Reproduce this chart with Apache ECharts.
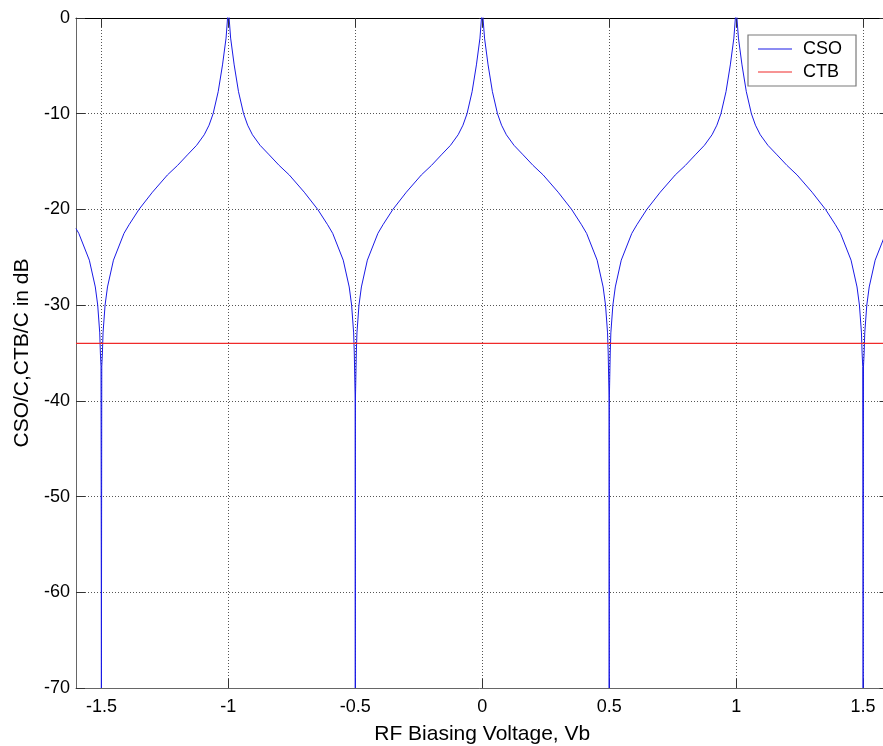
<!DOCTYPE html>
<html>
<head>
<meta charset="utf-8">
<script src="https://cdn.jsdelivr.net/npm/echarts@6/dist/echarts.min.js"></script>
<style>
  html, body { margin: 0; padding: 0; background: #fff; }
  #chart { width: 883px; height: 746px; }
</style>
</head>
<body>
<div id="chart"></div>
<script>
// Axis tick positions and labels
const xTickValues = [-1.5, -1, -0.5, 0, 0.5, 1, 1.5];
const xTickLabels = ['-1.5', '-1', '-0.5', '0', '0.5', '1', '1.5'];
const yTickValues = [0, -10, -20, -30, -40, -50, -60, -70];

// CSO vs. RF biasing voltage: [Vb, dB]
const csoPoints = [
  [-1.6, -22.0], [-1.589, -22.5], [-1.5475, -25.3], [-1.524, -28.1], [-1.5145, -30.0],
  [-1.5065, -32.9], [-1.504, -35.0], [-1.5015, -36.4], [-1.5, -70],
  [-1.4985, -36.4], [-1.496, -35.0], [-1.4935, -32.9], [-1.4855, -30.0], [-1.476, -28.1],
  [-1.4525, -25.3], [-1.411, -22.5], [-1.391, -21.6], [-1.352, -20.0], [-1.299, -18.2],
  [-1.24, -16.4], [-1.2, -15.4], [-1.161, -14.3], [-1.125, -13.3], [-1.095, -12.2],
  [-1.076, -11.2], [-1.06, -10.0], [-1.04, -7.7], [-1.023, -4.9], [-1.009, -2.1],
  [-1.003, 0], [-1.0, 2],
  [-0.997, 0], [-0.991, -2.1], [-0.977, -4.9], [-0.96, -7.7], [-0.94, -10.0],
  [-0.924, -11.2], [-0.905, -12.2], [-0.875, -13.3], [-0.839, -14.3], [-0.8, -15.4],
  [-0.76, -16.4], [-0.701, -18.2], [-0.648, -20.0], [-0.609, -21.6], [-0.589, -22.5],
  [-0.5475, -25.3], [-0.524, -28.1], [-0.5145, -30.0], [-0.5065, -32.9], [-0.504, -35.0],
  [-0.5002, -40.2], [-0.5, -70],
  [-0.4998, -40.2], [-0.496, -35.0], [-0.4935, -32.9], [-0.4855, -30.0], [-0.476, -28.1],
  [-0.4525, -25.3], [-0.411, -22.5], [-0.391, -21.6], [-0.352, -20.0], [-0.299, -18.2],
  [-0.24, -16.4], [-0.2, -15.4], [-0.161, -14.3], [-0.125, -13.3], [-0.095, -12.2],
  [-0.076, -11.2], [-0.06, -10.0], [-0.04, -7.7], [-0.023, -4.9], [-0.009, -2.1],
  [-0.003, 0], [0, 2],
  [0.003, 0], [0.009, -2.1], [0.023, -4.9], [0.04, -7.7], [0.06, -10.0],
  [0.076, -11.2], [0.095, -12.2], [0.125, -13.3], [0.161, -14.3], [0.2, -15.4],
  [0.24, -16.4], [0.299, -18.2], [0.352, -20.0], [0.391, -21.6], [0.411, -22.5],
  [0.4525, -25.3], [0.476, -28.1], [0.4855, -30.0], [0.4935, -32.9], [0.496, -35.0],
  [0.4998, -40.2], [0.5, -70],
  [0.5002, -40.2], [0.504, -35.0], [0.5065, -32.9], [0.5145, -30.0], [0.524, -28.1],
  [0.5475, -25.3], [0.589, -22.5], [0.609, -21.6], [0.648, -20.0], [0.701, -18.2],
  [0.76, -16.4], [0.8, -15.4], [0.839, -14.3], [0.875, -13.3], [0.905, -12.2],
  [0.924, -11.2], [0.94, -10.0], [0.96, -7.7], [0.977, -4.9], [0.991, -2.1],
  [0.997, 0], [1.0, 2],
  [1.003, 0], [1.009, -2.1], [1.023, -4.9], [1.04, -7.7], [1.06, -10.0],
  [1.076, -11.2], [1.095, -12.2], [1.125, -13.3], [1.161, -14.3], [1.2, -15.4],
  [1.24, -16.4], [1.299, -18.2], [1.352, -20.0], [1.391, -21.6], [1.411, -22.5],
  [1.4525, -25.3], [1.476, -28.1], [1.4855, -30.0], [1.4935, -32.9], [1.496, -35.0],
  [1.4985, -36.4], [1.5, -70],
  [1.5015, -36.4], [1.504, -35.0], [1.5065, -32.9], [1.5145, -30.0], [1.524, -28.1],
  [1.5475, -25.3], [1.589, -22.5], [1.6, -22.0]
];

// CTB level (flat across the sweep)
const ctbVb = [-1.6, 1.6];
const ctbDb = [-34, -34];

const FONT = '"Liberation Sans", Arial, sans-serif';
const X_MIN = -1.6, X_MAX = 1.6, Y_MIN = -70, Y_MAX = 0;
const CSO_COLOR = '#1a1ae6';
const CTB_COLOR = '#f02a2a';

const gridLine = { show: true, lineStyle: { color: '#555', width: 1, type: [1, 2] } };

const chart = echarts.init(document.getElementById('chart'), null, { renderer: 'canvas' });

chart.setOption({
  animation: false,
  backgroundColor: '#fff',
  color: [CSO_COLOR, CTB_COLOR],
  // the plot box runs a few pixels past the right edge of the canvas
  grid: { left: 76, top: 18, width: 812.5, height: 670, containLabel: false, outerBoundsMode: 'none' },
  legend: {
    orient: 'vertical',
    left: 748, top: 35,
    padding: [5, 14, 5, 10],
    icon: 'rect',
    itemWidth: 34, itemHeight: 1.2, itemGap: 5,
    backgroundColor: '#fff',
    borderColor: '#7a7a7a', borderWidth: 1.2, borderRadius: 0,
    textStyle: { fontFamily: FONT, fontSize: 18, color: '#000', padding: [0, 0, 0, 6] },
    data: ['CSO', 'CTB']
  },
  xAxis: [
    {
      type: 'value', position: 'bottom', min: X_MIN, max: X_MAX,
      name: 'RF Biasing Voltage, Vb', nameLocation: 'middle', nameGap: 36,
      nameTextStyle: { fontFamily: FONT, fontSize: 21, color: '#000' },
      axisLine: { show: true, onZero: false, lineStyle: { color: '#666', width: 1 } },
      axisTick: { show: true, inside: true, length: 9, customValues: xTickValues, lineStyle: { color: '#333' } },
      axisLabel: {
        show: true, margin: 10, fontFamily: FONT, fontSize: 18, color: '#000',
        customValues: xTickValues,
        formatter: v => xTickLabels[xTickValues.indexOf(v)] ?? ''
      },
      splitLine: gridLine
    },
    {
      type: 'value', position: 'top', min: X_MIN, max: X_MAX,
      axisLine: { show: true, onZero: false, lineStyle: { color: '#000', width: 1 } },
      axisTick: { show: true, inside: true, length: 9, customValues: xTickValues, lineStyle: { color: '#333' } },
      axisLabel: { show: false },
      splitLine: { show: false }
    }
  ],
  yAxis: [
    {
      type: 'value', position: 'left', min: Y_MIN, max: Y_MAX, interval: 10,
      name: 'CSO/C,CTB/C in dB', nameLocation: 'middle', nameGap: 43, nameRotate: 90,
      nameTextStyle: { fontFamily: FONT, fontSize: 21, color: '#000' },
      axisLine: { show: true, onZero: false, lineStyle: { color: '#666', width: 1 } },
      axisTick: { show: true, inside: true, length: 9, lineStyle: { color: '#333' } },
      axisLabel: { show: true, margin: 6, fontFamily: FONT, fontSize: 18, color: '#000' },
      splitLine: gridLine
    },
    {
      type: 'value', position: 'right', min: Y_MIN, max: Y_MAX, interval: 10,
      axisLine: { show: true, onZero: false, lineStyle: { color: '#000', width: 1 } },
      axisTick: { show: true, inside: true, length: 9, lineStyle: { color: '#333' } },
      axisLabel: { show: false },
      splitLine: { show: false }
    }
  ],
  series: [
    {
      name: 'CSO', type: 'line', xAxisIndex: 0, yAxisIndex: 0,
      data: csoPoints, symbol: 'none', clip: true, z: 2,
      lineStyle: { color: CSO_COLOR, width: 1 }, itemStyle: { color: CSO_COLOR }
    },
    {
      name: 'CTB', type: 'line', xAxisIndex: 0, yAxisIndex: 0,
      data: ctbVb.map((v, i) => [v, ctbDb[i]]), symbol: 'none', clip: true, z: 3,
      lineStyle: { color: CTB_COLOR, width: 1.3 }, itemStyle: { color: CTB_COLOR }
    }
  ]
});
</script>
</body>
</html>
